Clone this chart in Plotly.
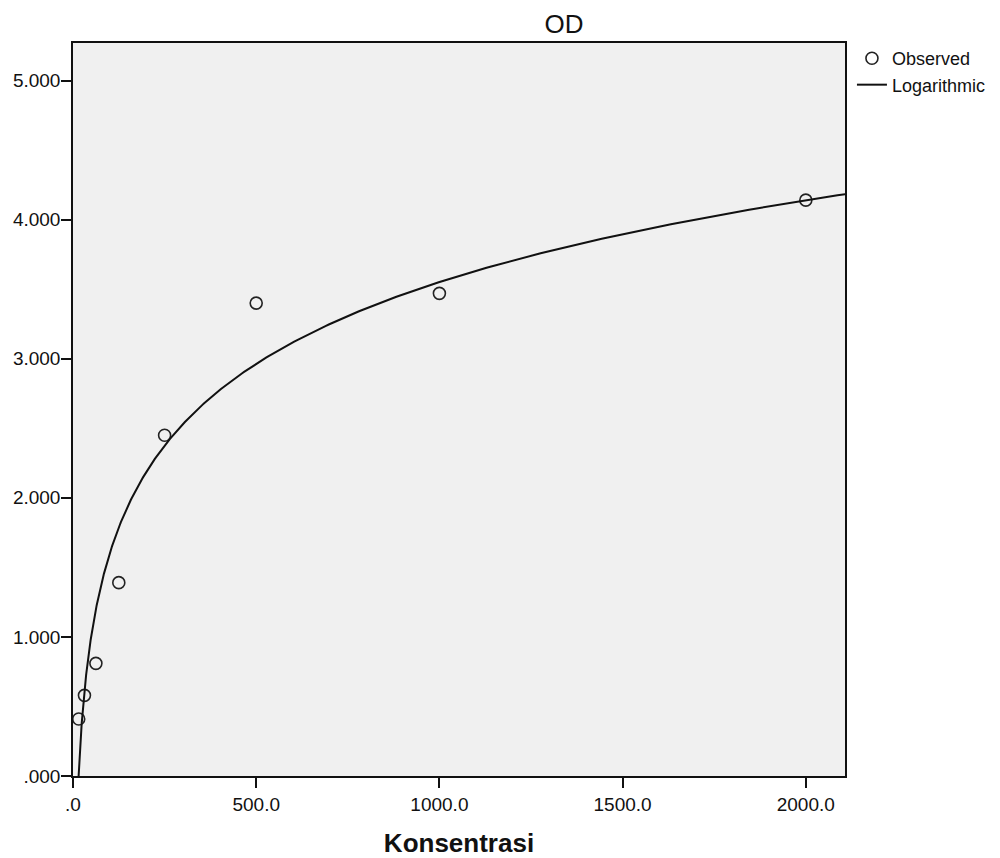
import numpy as np
import plotly.graph_objects as go

# Data
konsentrasi = [15.625, 31.25, 62.5, 125, 250, 500, 1000, 2000]
od_observed = [0.41, 0.58, 0.81, 1.39, 2.45, 3.40, 3.47, 4.14]

x_tickvals = [0, 500, 1000, 1500, 2000]
x_ticktext = [".0", "500.0", "1000.0", "1500.0", "2000.0"]
y_tickvals = [0, 1, 2, 3, 4, 5]
y_ticktext = [".000", "1.000", "2.000", "3.000", "4.000", "5.000"]

# Logarithmic model fitted to observed data: OD = a + b*ln(x)
b, a = np.polyfit(np.log(konsentrasi), od_observed, 1)
x_curve = np.geomspace(8, 2110, 500)
y_curve = a + b * np.log(x_curve)

FONT = "Liberation Sans, Arial"

fig = go.Figure()
fig.add_trace(go.Scatter(
    x=konsentrasi, y=od_observed, mode="markers", name="Observed",
    marker=dict(symbol="circle-open", size=12, color="#222222",
                line=dict(width=1.6, color="#222222")),
    cliponaxis=False,
))
fig.add_trace(go.Scatter(
    x=x_curve, y=y_curve, mode="lines", name="Logarithmic",
    line=dict(color="#111111", width=2),
))

axis_common = dict(
    showline=True, linecolor="#111111", linewidth=1.5, mirror=True,
    showgrid=False, zeroline=False, ticks="outside", ticklen=10,
    tickcolor="#111111", tickwidth=1.5, automargin=False,
    tickfont=dict(family=FONT, size=19, color="#111111"),
)

W, H = 992, 850
fig.update_layout(
    width=W, height=H,
    margin=dict(l=65, r=155, t=35, b=82, autoexpand=False),
    paper_bgcolor="white", plot_bgcolor="#f0f0f0",
    title=dict(text="OD", x=(564 - 8) / W, xanchor="center", y=1 - (24 - 8) / H,
               yanchor="middle",
               font=dict(family=FONT, size=26, color="#111111")),
    xaxis=dict(axis_common, range=[0, 2107], tickvals=x_tickvals,
               ticktext=x_ticktext,
               title=dict(text="<b>Konsentrasi</b>", standoff=22,
                          font=dict(family=FONT, size=26, color="#111111"))),
    yaxis=dict(axis_common, range=[0, 5.27], tickvals=y_tickvals,
               ticktext=y_ticktext, ticklabelstandoff=-3),
    legend=dict(x=1.009, y=1.004, xanchor="left", yanchor="top",
                bgcolor="rgba(0,0,0,0)",
                font=dict(family=FONT, size=18, color="#111111"),
                itemwidth=30, tracegroupgap=0),
    showlegend=True,
)

fig.write_html("out.html")
